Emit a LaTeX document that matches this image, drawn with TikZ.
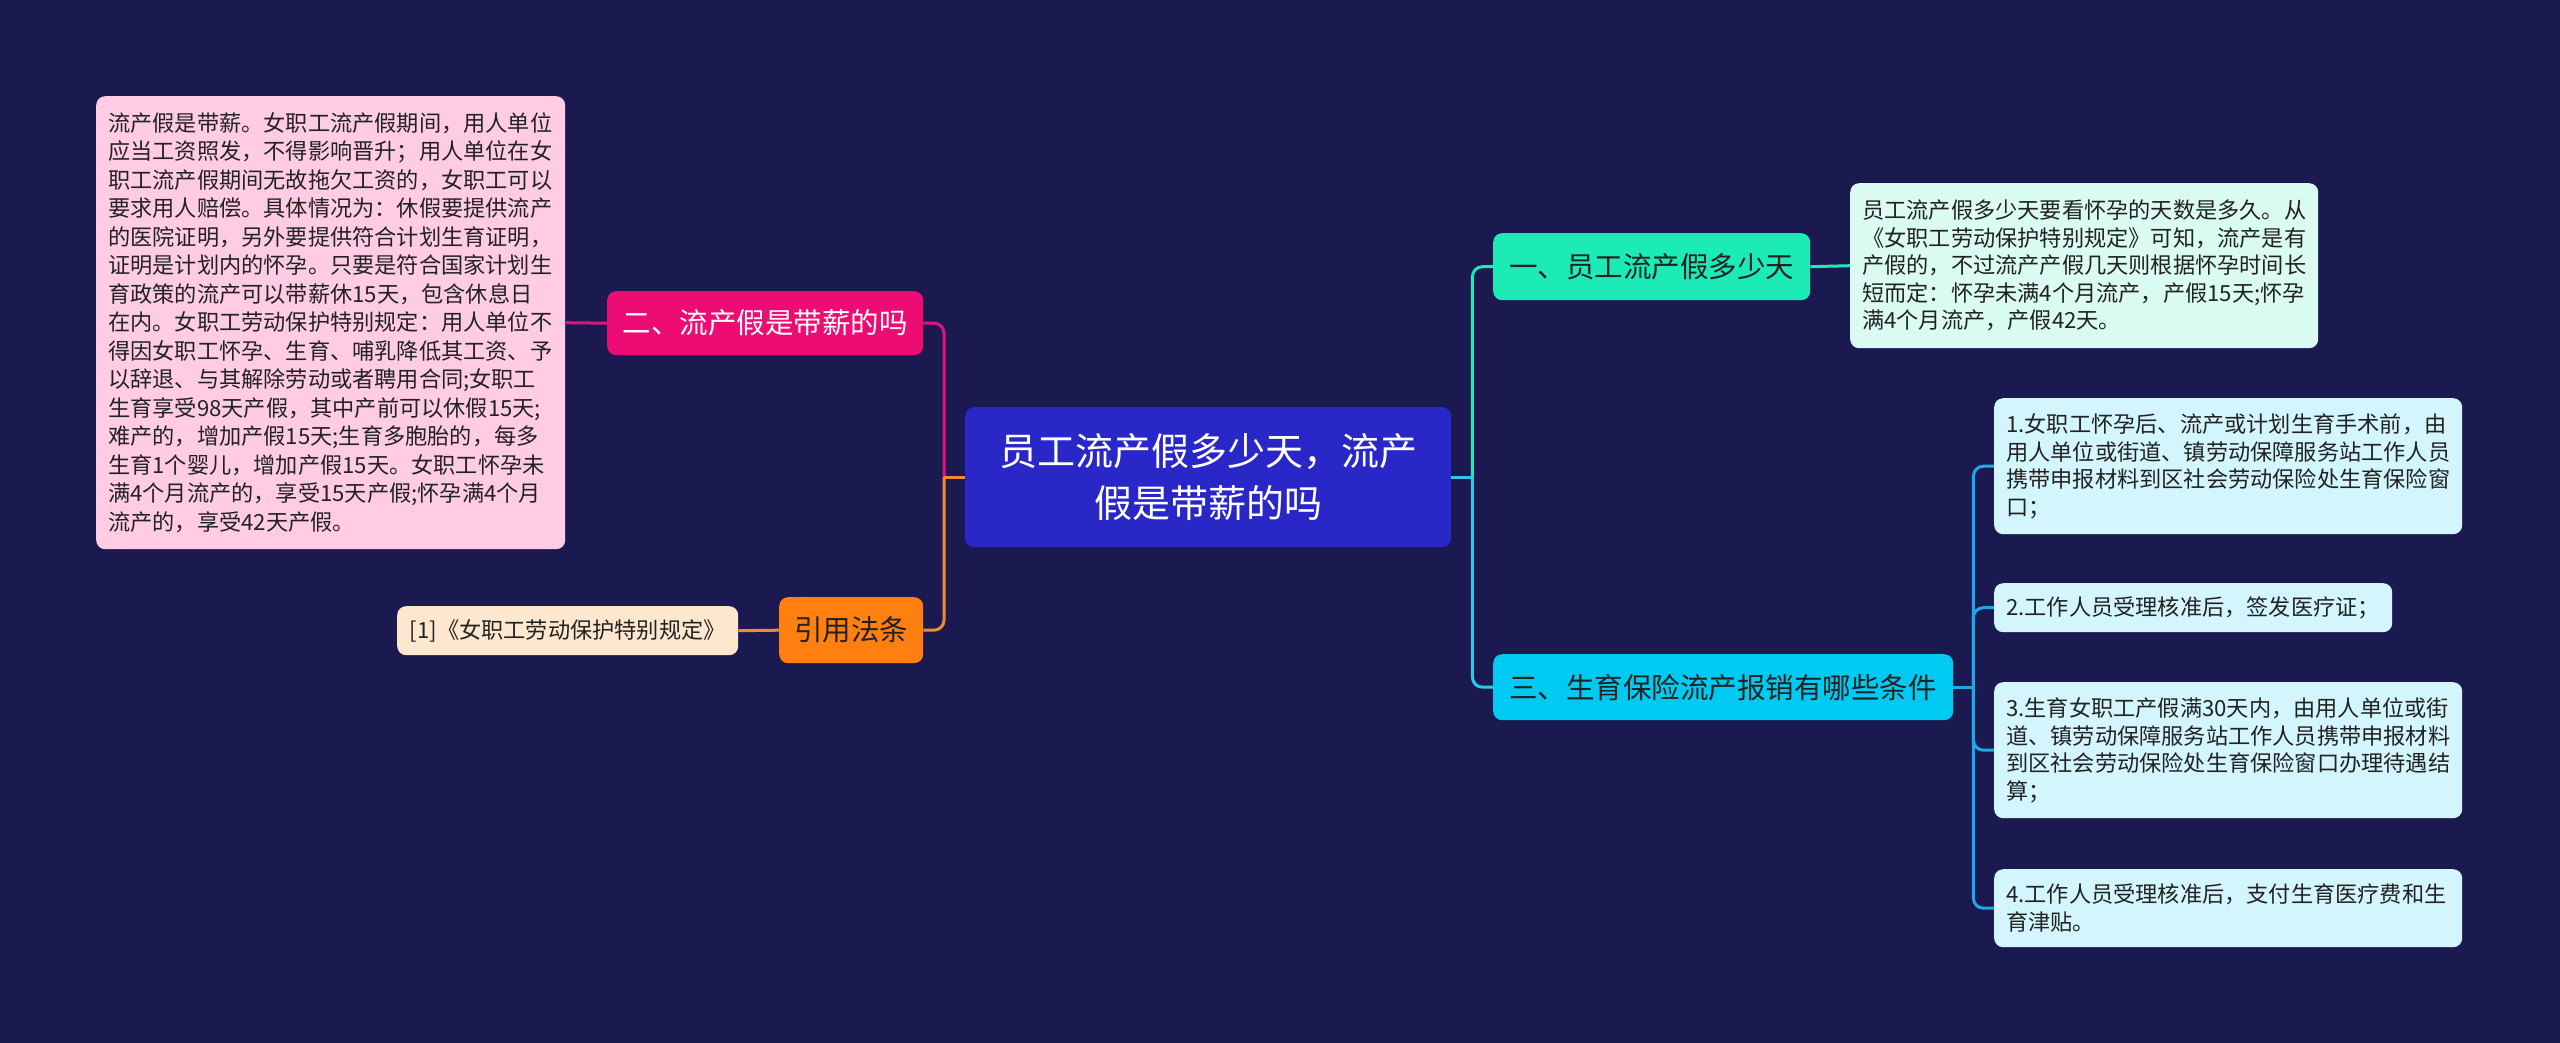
\documentclass[tikz,border=0pt]{standalone}
\usepackage{fontspec}
\setmainfont{Noto Sans CJK SC}
\usetikzlibrary{calc}
\definecolor{bg}{HTML}{1B1A50}
\definecolor{central}{HTML}{2A27C8}
\definecolor{mag}{HTML}{EC0C73}
\definecolor{magline}{HTML}{E0147C}
\definecolor{orangebox}{HTML}{FF8010}
\definecolor{orangeline}{HTML}{F28A2E}
\definecolor{pinkbox}{HTML}{FFCCE3}
\definecolor{peach}{HTML}{FDE8CF}
\definecolor{teal}{HTML}{1CEBB7}
\definecolor{mint}{HTML}{D9FBF1}
\definecolor{cyanbox}{HTML}{00C9F2}
\definecolor{cyanline}{HTML}{2EC6EC}
\definecolor{blueline}{HTML}{1EA8E6}
\definecolor{itembox}{HTML}{D3F5FD}
\definecolor{darktext}{HTML}{222222}
\begin{document}
\begin{tikzpicture}[x=1pt,y=-1pt,
  box/.style={rounded corners=9pt, anchor=north west, inner xsep=12pt, inner ysep=0pt, text=darktext},
  small/.style={font=\fontsize{22.2}{27.5}\selectfont, align=left},
  big/.style={font=\fontsize{28.5}{34}\selectfont, align=center},
  conn/.style={line width=3pt, rounded corners=10pt}
]
\fill[bg] (0,0) rectangle (2560,1043);

% central
\node[box, fill=central, text=white, minimum width=486pt, minimum height=140pt, text width=462pt, align=center, font=\fontsize{38}{52}\selectfont] (c) at (965,407) {员工流产假多少天，流产\\假是带薪的吗};

% left side
\node[box, big, fill=mag, text=white, minimum width=316pt, minimum height=64pt] (er) at (607,291) {二、流产假是带薪的吗};
\node[box, big, fill=orangebox, minimum width=144pt, minimum height=66pt] (yy) at (779,597) {引用法条};
\node[box, small, fill=pinkbox, minimum width=469pt, minimum height=453pt, text width=445pt, font=\fontsize{22.2}{28.5}\selectfont] (pink) at (96,96) {流产假是带薪。女职工流产假期间，用人单位\\应当工资照发，不得影响晋升；用人单位在女\\职工流产假期间无故拖欠工资的，女职工可以\\要求用人赔偿。具体情况为：休假要提供流产\\的医院证明，另外要提供符合计划生育证明，\\证明是计划内的怀孕。只要是符合国家计划生\\育政策的流产可以带薪休15天，包含休息日\\在内。女职工劳动保护特别规定：用人单位不\\得因女职工怀孕、生育、哺乳降低其工资、予\\以辞退、与其解除劳动或者聘用合同;女职工\\生育享受98天产假，其中产前可以休假15天;\\难产的，增加产假15天;生育多胞胎的，每多\\生育1个婴儿，增加产假15天。女职工怀孕未\\满4个月流产的，享受15天产假;怀孕满4个月\\流产的，享受42天产假。};
\node[box, small, fill=peach, minimum width=341pt, minimum height=49pt, align=center] (ref) at (397,606) {[1]《女职工劳动保护特别规定》};

% right side
\node[box, big, fill=teal, minimum width=317pt, minimum height=67pt] (one) at (1493,233) {一、员工流产假多少天};
\node[box, small, fill=mint, minimum width=468pt, minimum height=165pt, text width=444pt] (onet) at (1850,183) {员工流产假多少天要看怀孕的天数是多久。从\\《女职工劳动保护特别规定》可知，流产是有\\产假的，不过流产产假几天则根据怀孕时间长\\短而定：怀孕未满4个月流产，产假15天;怀孕\\满4个月流产，产假42天。};
\node[box, big, fill=cyanbox, minimum width=460pt, minimum height=66pt] (three) at (1493,654) {三、生育保险流产报销有哪些条件};
\node[box, small, fill=itembox, minimum width=468pt, minimum height=136pt, text width=444pt] (i1) at (1994,398) {1.女职工怀孕后、流产或计划生育手术前，由\\用人单位或街道、镇劳动保障服务站工作人员\\携带申报材料到区社会劳动保险处生育保险窗\\口；};
\node[box, small, fill=itembox, minimum width=398pt, minimum height=49pt, text width=374pt] (i2) at (1994,583) {2.工作人员受理核准后，签发医疗证；};
\node[box, small, fill=itembox, minimum width=468pt, minimum height=136pt, text width=444pt] (i3) at (1994,682) {3.生育女职工产假满30天内，由用人单位或街\\道、镇劳动保障服务站工作人员携带申报材料\\到区社会劳动保险处生育保险窗口办理待遇结\\算；};
\node[box, small, fill=itembox, minimum width=468pt, minimum height=78pt, text width=444pt] (i4) at (1994,869) {4.工作人员受理核准后，支付生育医疗费和生\\育津贴。};

% junctions
\coordinate (jl) at ($(c.west)+(-21,0)$);
\coordinate (jr) at ($(c.east)+(21,0)$);
\coordinate (j3) at ($(three.east)+(20,0)$);

% left connectors
\draw[conn, magline] (jl) |- (er.east);
\draw[conn, orangeline] (jl) |- (yy.east);
\draw[line width=3pt, orangeline] (c.west) -- (jl);
\draw[line width=3pt, magline] (er.west) -- (pink.east);
\draw[line width=3pt, orangeline] (yy.west) -- (ref.east);

% right connectors
\draw[conn, teal] (jr) |- (one.west);
\draw[conn, cyanline] (jr) |- (three.west);
\draw[line width=3pt, cyanline] (c.east) -- (jr);
\draw[line width=3pt, teal] (one.east) -- (onet.west);
\draw[line width=3pt, blueline] (three.east) -- (j3);
\draw[conn, blueline] (j3) |- (i1.west);
\draw[conn, blueline] (j3) |- (i2.west);
\draw[conn, blueline] (j3) |- (i3.west);
\draw[conn, blueline] (j3) |- (i4.west);
\end{tikzpicture}
\end{document}
